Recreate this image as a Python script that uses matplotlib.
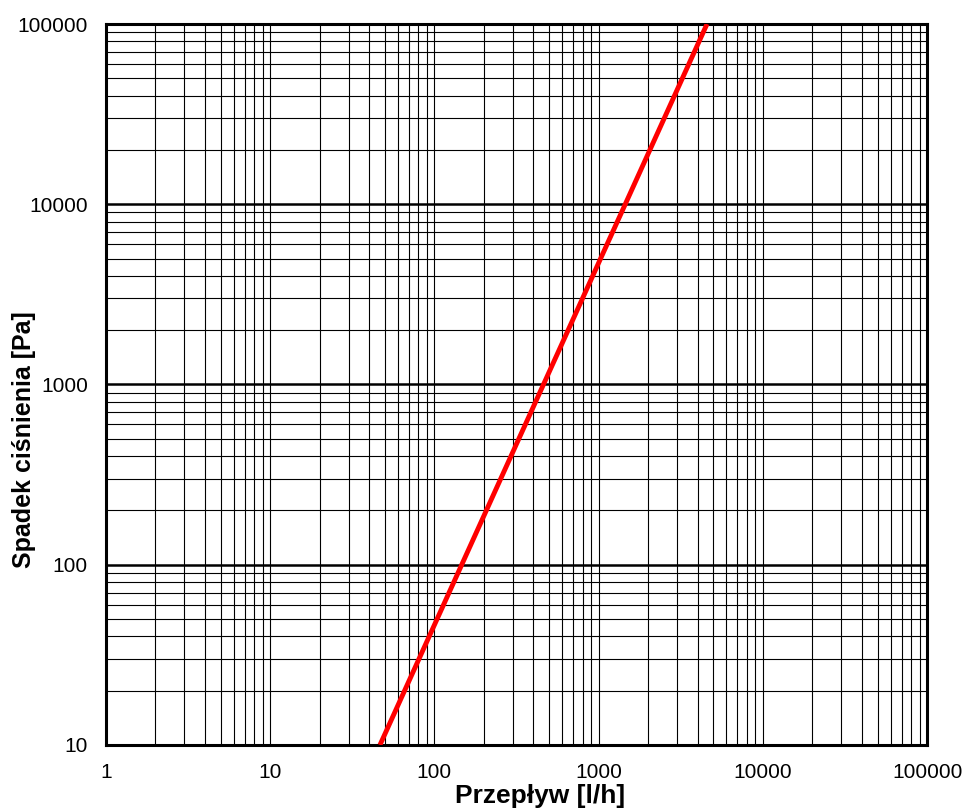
import matplotlib
matplotlib.use("Agg")
import matplotlib.pyplot as plt
from matplotlib.ticker import LogLocator, FixedLocator, NullFormatter

plt.rcParams['font.family'] = ['Liberation Sans', 'DejaVu Sans']

# flow [l/h] vs pressure drop [Pa]
flow = [46.6, 4570]
pressure_drop = [10, 100000]

x_ticks = [1, 10, 100, 1000, 10000, 100000]
y_ticks = [10, 100, 1000, 10000, 100000]

fig = plt.figure(figsize=(9.66, 8.11), dpi=100)
ax = fig.add_axes([0.1097, 0.0814, 0.85, 0.889])

ax.set_xscale('log')
ax.set_yscale('log')
ax.set_xlim(1, 100000)
ax.set_ylim(10, 100000)

ax.xaxis.set_major_locator(FixedLocator(x_ticks))
ax.yaxis.set_major_locator(FixedLocator(y_ticks))
ax.set_xticklabels([str(v) for v in x_ticks])
ax.set_yticklabels([str(v) for v in y_ticks])
ax.xaxis.set_minor_locator(LogLocator(base=10, subs=range(2, 10), numticks=20))
ax.yaxis.set_minor_locator(LogLocator(base=10, subs=range(2, 10), numticks=20))
ax.xaxis.set_minor_formatter(NullFormatter())
ax.yaxis.set_minor_formatter(NullFormatter())

# grid: vertical lines all thin, horizontal decade lines thick
ax.grid(True, which='both', axis='x', color='black', linewidth=0.8)
ax.grid(True, which='minor', axis='y', color='black', linewidth=0.8)
ax.grid(True, which='major', axis='y', color='black', linewidth=1.8)

ax.tick_params(which='both', length=0, labelsize=15)
ax.tick_params(axis='x', pad=13)
ax.tick_params(axis='y', pad=13)

for sp in ax.spines.values():
    sp.set_linewidth(2.2)
    sp.set_color('black')

ax.plot(flow, pressure_drop, color='#ff0000', linewidth=3.5, solid_capstyle='butt', zorder=5)

ax.set_xlabel('Przepływ [l/h]', fontsize=19, fontweight='bold')
ax.set_ylabel('Spadek ciśnienia [Pa]', fontsize=18, fontweight='bold')
ax.xaxis.set_label_coords(0.529, -0.054)
ax.yaxis.set_label_coords(-0.085, 0.423)

fig.savefig('out.png', dpi=100)
